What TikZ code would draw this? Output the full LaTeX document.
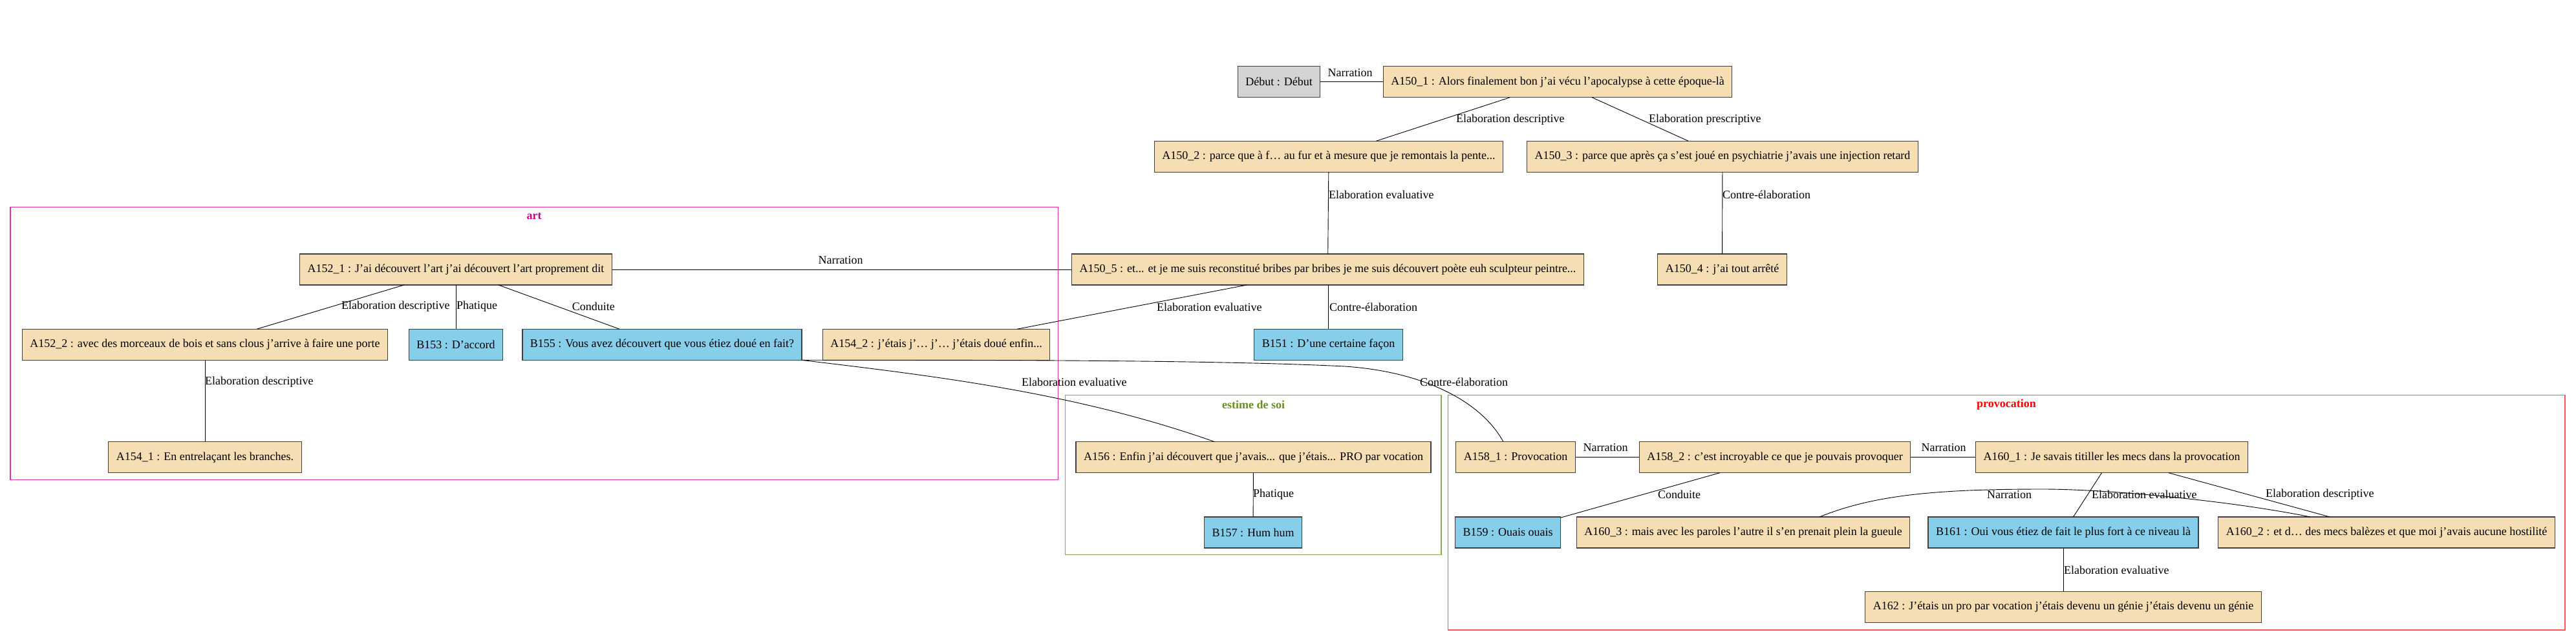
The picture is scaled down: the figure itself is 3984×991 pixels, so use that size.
\documentclass[tikz,border=0pt]{standalone}
\usepackage{fontspec}
\setmainfont{Liberation Serif}
\usetikzlibrary{calc}
\definecolor{wheatc}{HTML}{F5DEB3}
\definecolor{skyc}{HTML}{87CEEB}
\definecolor{grayc}{HTML}{D3D3D3}
\definecolor{artcol}{RGB}{222,52,160}
\definecolor{artlabel}{RGB}{204,0,136}
\definecolor{estborder}{RGB}{140,170,85}
\definecolor{estlabel}{RGB}{107,142,35}
\definecolor{provborder}{RGB}{255,85,85}
\definecolor{provlabel}{RGB}{255,0,0}
\begin{document}
\begin{tikzpicture}[x=1pt,y=-1pt,
  font=\fontsize{18}{21}\selectfont,
  box/.style={draw=black!75, line width=1.2pt, minimum height=48pt, inner xsep=12pt, inner ysep=0pt, outer sep=0pt},
  abox/.style={box, fill=wheatc},
  bbox/.style={box, fill=skyc},
  gbox/.style={box, fill=grayc},
  lbl/.style={inner sep=0pt, anchor=west},
  lblc/.style={inner sep=0pt},
  conn/.style={line width=0.9pt, black},
  clus/.style={line width=1.2pt}
  ]
\useasboundingbox (0,0) rectangle (3984,991);
% clusters
\draw[clus, artcol] (16,320.7) rectangle (1636.5,742.3);
\node[lblc, text=artlabel, font=\fontsize{18}{21}\selectfont\bfseries] (Lart) at (826,335) {art};
\draw[clus, estborder] (1647.8,611.7) rectangle (2229,858.3);
\node[lblc, text=estlabel, font=\fontsize{18}{21}\selectfont\bfseries] (Lest) at (1938.5,626) {estime de soi};
\draw[clus, provborder] (2239.5,611.7) rectangle (3967,975);
\node[lblc, text=provlabel, font=\fontsize{18}{21}\selectfont\bfseries] (Lprov) at (3103,626) {provocation};

% nodes
\node[gbox] (Deb) at (1978,126.7) {Début : Début};
\node[abox] (A150a) at (2409,126.7) {A150\_1 : Alors finalement bon j’ai vécu l’apocalypse à cette époque-là};
\node[abox] (A150b) at (2055,242.2) {A150\_2 : parce que à f… au fur et à mesure que je remontais la pente...};
\node[abox] (A150c) at (2664,242.2) {A150\_3 : parce que après ça s’est joué en psychiatrie j’avais une injection retard};
\node[abox] (A152a) at (705,417) {A152\_1 : J’ai découvert l’art j’ai découvert l’art proprement dit};
\node[abox] (A150e) at (2053.5,417) {A150\_5 : et... et je me suis reconstitué bribes par bribes je me suis découvert poète euh sculpteur peintre...};
\node[abox] (A150d) at (2663.5,417) {A150\_4 : j’ai tout arrêté};
\node[abox] (A152b) at (317,533.3) {A152\_2 : avec des morceaux de bois et sans clous j’arrive à faire une porte};
\node[bbox] (B153) at (705,533.3) {B153 : D’accord};
\node[bbox] (B155) at (1024,533.3) {B155 : Vous avez découvert que vous étiez doué en fait?};
\node[abox] (A154b) at (1448,533.3) {A154\_2 : j’étais j’… j’… j’étais doué enfin...};
\node[bbox] (B151) at (2054.5,533.3) {B151 : D’une certaine façon};
\node[abox] (A154a) at (317,707.7) {A154\_1 : En entrelaçant les branches.};
\node[abox] (A156) at (1938.5,707.7) {A156 : Enfin j’ai découvert que j’avais... que j’étais... PRO par vocation};
\node[abox] (A158a) at (2344,707.7) {A158\_1 : Provocation};
\node[abox] (A158b) at (2745,707.7) {A158\_2 : c’est incroyable ce que je pouvais provoquer};
\node[abox] (A160a) at (3266,707.7) {A160\_1 : Je savais titiller les mecs dans la provocation};
\node[bbox] (B157) at (1938,824) {B157 : Hum hum};
\node[bbox] (B159) at (2332,824) {B159 : Ouais ouais};
\node[abox] (A160c) at (2696,824) {A160\_3 : mais avec les paroles l’autre il s’en prenait plein la gueule};
\node[bbox] (B161) at (3191,824) {B161 : Oui vous étiez de fait le plus fort à ce niveau là};
\node[abox] (A160b) at (3691,824) {A160\_2 : et d… des mecs balèzes et que moi j’avais aucune hostilité};
\node[abox] (A162) at (3191,939.5) {A162 : J’étais un pro par vocation j’étais devenu un génie j’étais devenu un génie};

% connectors
\draw[conn] (Deb) -- (A150a);
\draw[conn] (A150a) -- (A150b);
\draw[conn] (A150a) -- (A150c);
\draw[conn] (A150b) -- (A150e);
\draw[conn] (A150c) -- (A150d);
\draw[conn] (A152a) -- (A150e);
\draw[conn] (A150e) -- (A154b);
\draw[conn] (A150e.south -| B151.north) -- (B151);
\draw[conn] (A152a) -- (A152b);
\draw[conn] (A152a) -- (B153);
\draw[conn] (A152a) -- (B155);
\draw[conn] (A152b) -- (A154a);
\draw[conn] (B155.south east) .. controls (1456,583) and (1667,609) .. ($(A156.north)+(-60,0)$);
\draw[conn] (B155.south east) .. controls (1600,557) and (1900,558) .. (2080,567)
   .. controls (2200,575) and (2290,620) .. ($(A158a.north)+(-19,0)$);
\draw[conn] (A156) -- (B157);
\draw[conn] (A158a) -- (A158b);
\draw[conn] (A158b) -- (A160a);
\draw[conn] (A158b) -- (B159);
\draw[conn] (A160a) -- (B161);
\draw[conn] (A160a) -- (A160b);
\draw[conn] ($(A160c.north)+(118,0)$) .. controls (2900,765) and (3000,757) .. (3160,757)
   .. controls (3260,757) and (3450,775) .. ($(A160b.north)+(-118,0)$);
\draw[conn] (B161) -- (A162);

% connector labels
\node[lblc] (l1) at (2088,113) {Narration};
\node[lbl] (l2) at (2252,185) {Elaboration descriptive};
\node[lbl] (l3) at (2550,185) {Elaboration prescriptive};
\node[lbl] (l4) at (2055,301) {Elaboration evaluative};
\node[lbl] (l5) at (2664,301) {Contre-élaboration};
\node[lblc] (l6) at (1300,403) {Narration};
\node[lbl] (l7) at (1789,475) {Elaboration evaluative};
\node[lbl] (l8) at (2056,475) {Contre-élaboration};
\node[lbl] (l9) at (528,474) {Elaboration descriptive};
\node[lbl] (l10) at (706,474) {Phatique};
\node[lbl] (l11) at (884.6,474) {Conduite};
\node[lbl] (l12) at (317,591) {Elaboration descriptive};
\node[lbl] (l13) at (1580,591) {Elaboration evaluative};
\node[lbl] (l14) at (2196,591) {Contre-élaboration};
\node[lbl] (l15) at (1938,765) {Phatique};
\node[lblc] (l16) at (2483,693) {Narration};
\node[lblc] (l17) at (3006,693) {Narration};
\node[lbl] (l18) at (2564,765) {Conduite};
\node[lbl] (l19) at (3073,766) {Narration};
\node[lbl] (l20) at (3235,765) {Elaboration evaluative};
\node[lbl] (l21) at (3504,765) {Elaboration descriptive};
\node[lbl] (l22) at (3192,882) {Elaboration evaluative};
\end{tikzpicture}
\end{document}
